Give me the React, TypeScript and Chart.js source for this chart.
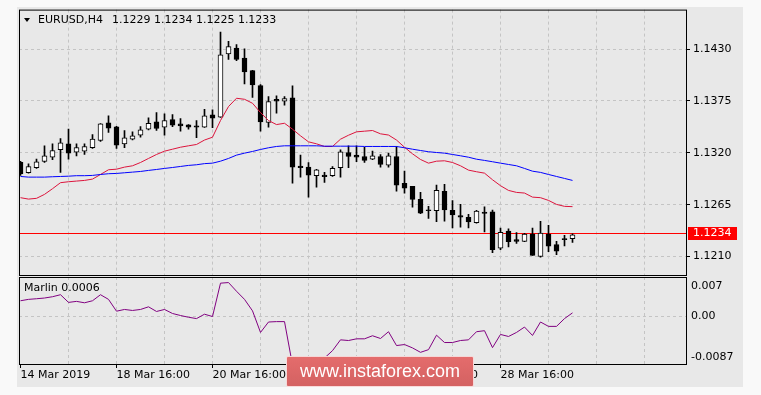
import React, { useEffect, useRef } from "react";
import { Chart, registerables } from "chart.js";

Chart.register(...registerables);

// ---------------- data ----------------
const symbolLabel = "EURUSD,H4";
const indicatorName = "Marlin";
const currentPrice = 1.1234;
const priceTicks = [1.121, 1.1265, 1.132, 1.1375, 1.143];
const dateLabels = ["14 Mar 2019", "18 Mar 16:00", "20 Mar 16:00", "22 Mar 16:00", "26 Mar 16:00", "28 Mar 16:00"];
const marlinTickValues = [0.007, 0, -0.0087];
const marlinTickLabels = ["0.007", "0.00", "-0.0087"];
const watermarkText = "www.instaforex.com";

const opens = [
  1.13100, 1.12990, 1.13041, 1.13108, 1.13153, 1.13232, 1.13295, 1.13206, 1.13217, 1.13253,
  1.13330, 1.13517, 1.13475, 1.13295, 1.13344, 1.13386, 1.13450, 1.13528, 1.13471, 1.13552,
  1.13507, 1.13496, 1.13486, 1.13471, 1.13602, 1.13577, 1.14247, 1.14311, 1.14205, 1.14071,
  1.13912, 1.13521, 1.13767, 1.13746, 1.13782, 1.13058, 1.13048, 1.12957, 1.12963, 1.12957,
  1.13041, 1.13203, 1.13175, 1.13161, 1.13132, 1.13161, 1.13069, 1.13161, 1.12875, 1.12843,
  1.12706, 1.12588, 1.12586, 1.12790, 1.12589, 1.12533, 1.12516, 1.12459, 1.12572, 1.12575,
  1.12188, 1.12370, 1.12281, 1.12260, 1.12339, 1.12100, 1.12335, 1.12227, 1.12291, 1.12290,
];
const highs = [
  1.13110, 1.13084, 1.13132, 1.13274, 1.13295, 1.13351, 1.13450, 1.13295, 1.13295, 1.13394,
  1.13510, 1.13591, 1.13480, 1.13436, 1.13422, 1.13478, 1.13570, 1.13626, 1.13613, 1.13605,
  1.13563, 1.13500, 1.13542, 1.13661, 1.13655, 1.14480, 1.14381, 1.14346, 1.14303, 1.14075,
  1.13922, 1.13796, 1.13803, 1.13796, 1.13909, 1.13175, 1.13097, 1.13025, 1.12992, 1.13055,
  1.13232, 1.13274, 1.13274, 1.13259, 1.13217, 1.13182, 1.13196, 1.13267, 1.13005, 1.12845,
  1.12780, 1.12632, 1.12857, 1.12865, 1.12694, 1.12653, 1.12547, 1.12589, 1.12626, 1.12593,
  1.12402, 1.12395, 1.12353, 1.12346, 1.12402, 1.12473, 1.12431, 1.12262, 1.12325, 1.12340,
];
const lows = [
  1.12960, 1.12984, 1.13034, 1.13097, 1.13126, 1.12992, 1.13132, 1.13168, 1.13182, 1.13245,
  1.13320, 1.13415, 1.13245, 1.13253, 1.13337, 1.13365, 1.13443, 1.13436, 1.13386, 1.13478,
  1.13429, 1.13450, 1.13359, 1.13468, 1.13465, 1.13575, 1.14190, 1.14177, 1.13930, 1.13788,
  1.13429, 1.13471, 1.13619, 1.13704, 1.12878, 1.12942, 1.12730, 1.12836, 1.12886, 1.12949,
  1.12942, 1.13041, 1.13105, 1.13097, 1.13126, 1.13048, 1.13048, 1.12794, 1.12773, 1.12624,
  1.12555, 1.12505, 1.12470, 1.12476, 1.12404, 1.12412, 1.12404, 1.12455, 1.12360, 1.12142,
  1.12174, 1.12202, 1.12240, 1.12258, 1.12112, 1.12093, 1.12152, 1.12121, 1.12213, 1.12250,
];
const closes = [
  1.12975, 1.13055, 1.13105, 1.13168, 1.13224, 1.13306, 1.13196, 1.13256, 1.13267, 1.13344,
  1.13507, 1.13460, 1.13280, 1.13359, 1.13380, 1.13443, 1.13513, 1.13457, 1.13542, 1.13492,
  1.13486, 1.13471, 1.13471, 1.13591, 1.13566, 1.14237, 1.14325, 1.14190, 1.14057, 1.13919,
  1.13528, 1.13743, 1.13746, 1.13774, 1.13048, 1.13041, 1.12963, 1.13020, 1.12946, 1.13034,
  1.13211, 1.13161, 1.13153, 1.13119, 1.13168, 1.13076, 1.13168, 1.12857, 1.12825, 1.12706,
  1.12561, 1.12585, 1.12801, 1.12593, 1.12540, 1.12518, 1.12466, 1.12582, 1.12557, 1.12173,
  1.12357, 1.12257, 1.12260, 1.12339, 1.12113, 1.12350, 1.12209, 1.12156, 1.12279, 1.12330,
];
const maFast = [
  1.12724, 1.12709, 1.12717, 1.12759, 1.12819, 1.12883, 1.12893, 1.12900, 1.12907, 1.12921,
  1.12970, 1.13020, 1.13026, 1.13048, 1.13062, 1.13097, 1.13140, 1.13182, 1.13217, 1.13238,
  1.13259, 1.13274, 1.13288, 1.13335, 1.13365, 1.13542, 1.13690, 1.13778, 1.13767, 1.13725,
  1.13626, 1.13542, 1.13499, 1.13513, 1.13450, 1.13380, 1.13316, 1.13295, 1.13267, 1.13267,
  1.13344, 1.13386, 1.13422, 1.13429, 1.13436, 1.13401, 1.13388, 1.13335, 1.13259, 1.13189,
  1.13129, 1.13090, 1.13111, 1.13115, 1.13097, 1.13062, 1.13016, 1.12999, 1.12984, 1.12914,
  1.12851, 1.12801, 1.12780, 1.12773, 1.12730, 1.12724, 1.12695, 1.12653, 1.12632, 1.12629,
];
const maSlow = [
  1.12949, 1.12942, 1.12942, 1.12942, 1.12946, 1.12949, 1.12952, 1.12957, 1.12957, 1.12960,
  1.12970, 1.12978, 1.12981, 1.12988, 1.12995, 1.13002, 1.13013, 1.13023, 1.13034, 1.13044,
  1.13055, 1.13066, 1.13073, 1.13085, 1.13090, 1.13111, 1.13140, 1.13175, 1.13196, 1.13214,
  1.13235, 1.13253, 1.13267, 1.13274, 1.13274, 1.13274, 1.13274, 1.13274, 1.13270, 1.13270,
  1.13270, 1.13270, 1.13270, 1.13267, 1.13267, 1.13267, 1.13267, 1.13267, 1.13253, 1.13238,
  1.13224, 1.13211, 1.13203, 1.13196, 1.13182, 1.13168, 1.13153, 1.13132, 1.13119, 1.13105,
  1.13090, 1.13076, 1.13062, 1.13034, 1.13005, 1.12992, 1.12970, 1.12949, 1.12928, 1.12907,
];
const marlin = [
  0.00276, 0.00301, 0.00312, 0.00325, 0.00348, 0.00384, 0.00247, 0.00265, 0.00240, 0.00276,
  0.00384, 0.00301, 0.00090, 0.00121, 0.00103, 0.00121, 0.00168, 0.00085, 0.00121, 0.00049,
  0.00013, -0.00018, -0.00042, 0.00036, -0.00005, 0.00590, 0.00601, 0.00446, 0.00301, 0.00096,
  -0.00289, -0.00103, -0.00096, -0.00096, -0.00870, -0.00830, -0.00860, -0.00800, -0.00745, -0.00614,
  -0.00421, -0.00433, -0.00403, -0.00403, -0.00348, -0.00397, -0.00276, -0.00523, -0.00505, -0.00565,
  -0.00644, -0.00596, -0.00338, -0.00469, -0.00469, -0.00433, -0.00421, -0.00276, -0.00258, -0.00560,
  -0.00325, -0.00361, -0.00289, -0.00193, -0.00343, -0.00103, -0.00181, -0.00181, -0.00042, 0.00060,
];

// ---------------- styling / layout ----------------
const FONT = "'DejaVu Sans', sans-serif";
const GRID = "#c4c4c4";
const PANEL_BG = "#e8e8e8";
const PAGE_BG = "#f9f9f9";
const X_MIN = -0.1875;
const X_MAX = 83.3125;
const BARS_PER_DAY = 6;
const BARS_PER_LABEL = 12;

Chart.defaults.font.family = FONT;
Chart.defaults.font.size = 11;
Chart.defaults.color = "#000";

const framePlugin = {
  id: "frame",
  afterDraw(chart: any) {
    const { ctx, chartArea: a } = chart;
    ctx.save();
    ctx.strokeStyle = "#000";
    ctx.lineWidth = 1;
    ctx.strokeRect(a.left + 0.5, a.top + 0.5, a.right - a.left - 1, a.bottom - a.top - 1);
    ctx.restore();
  },
};

const pricePlugin = {
  id: "priceLine",
  beforeDatasetsDraw(chart: any) {
    const { ctx, chartArea: a } = chart;
    const y = Math.floor(chart.scales.y.getPixelForValue(currentPrice)) + 0.5;
    ctx.save();
    ctx.strokeStyle = "#ff0000";
    ctx.lineWidth = 1;
    ctx.beginPath();
    ctx.moveTo(a.left, y);
    ctx.lineTo(a.right, y);
    ctx.stroke();
    ctx.restore();
  },
  afterDraw(chart: any) {
    const { ctx, chartArea: a } = chart;
    const y = Math.floor(chart.scales.y.getPixelForValue(currentPrice));
    ctx.save();
    ctx.fillStyle = "#ff0000";
    ctx.fillRect(a.right + 1, y - 6, 49, 13);
    ctx.fillStyle = "#ffffff";
    ctx.font = "11px " + FONT;
    ctx.textBaseline = "middle";
    ctx.textAlign = "left";
    ctx.fillText(currentPrice.toFixed(4), a.right + 6, y + 0.5);
    ctx.restore();
  },
};

const marlinLabelsPlugin = {
  id: "marlinLabels",
  afterDraw(chart: any) {
    const { ctx, chartArea: a } = chart;
    const s = chart.scales.y;
    ctx.save();
    ctx.fillStyle = "#000";
    ctx.font = "11px " + FONT;
    ctx.textBaseline = "middle";
    ctx.textAlign = "left";
    marlinTickValues.forEach((v, k) => {
      const y = Math.min(Math.max(s.getPixelForValue(v), a.top + 9), a.bottom - 8);
      ctx.fillText(marlinTickLabels[k], a.right + 4, y);
    });
    ctx.restore();
  },
};

function dayTicks(from: number) {
  const t: { value: number }[] = [];
  for (let v = from; v <= X_MAX; v += BARS_PER_DAY) t.push({ value: v });
  return t;
}

export default function App() {
  const mainRef = useRef<HTMLCanvasElement>(null);
  const subRef = useRef<HTMLCanvasElement>(null);

  useEffect(() => {
    const idx = opens.map((_, i) => i);
    const bodies = idx.map((i) => ({ x: i, y: [opens[i], closes[i]] }));
    const wicks = idx.map((i) => ({ x: i, y: [lows[i], highs[i]] }));

    const main = new Chart(mainRef.current as HTMLCanvasElement, {
      type: "line",
      data: {
        datasets: [
          {
            type: "bar",
            data: bodies as any,
            backgroundColor: (c: any) => (closes[c.dataIndex] >= opens[c.dataIndex] ? "#ffffff" : "#000000"),
            borderColor: "#000000",
            borderWidth: 1,
            borderSkipped: false,
            barThickness: 5,
            maxBarThickness: 5,
            grouped: false,
            minBarLength: 1,
            order: 1,
          } as any,
          {
            type: "bar",
            data: wicks as any,
            backgroundColor: "#000000",
            borderWidth: 0,
            barThickness: 1,
            maxBarThickness: 1,
            grouped: false,
            order: 2,
          } as any,
          {
            type: "line",
            data: maSlow.map((y, i) => ({ x: i, y })),
            borderColor: "#0000ff",
            borderWidth: 1,
            pointRadius: 0,
            tension: 0,
            order: 0,
          },
          {
            type: "line",
            data: maFast.map((y, i) => ({ x: i, y })),
            borderColor: "#dc143c",
            borderWidth: 1,
            pointRadius: 0,
            tension: 0,
            order: 0,
          },
        ],
      },
      options: {
        animation: false,
        responsive: false,
        events: [],
        layout: { padding: { left: 19, top: 9, right: 14, bottom: 119 } },
        plugins: { legend: { display: false }, tooltip: { enabled: false }, title: { display: false } },
        scales: {
          x: {
            type: "linear",
            min: X_MIN,
            max: X_MAX,
            offset: false,
            bounds: "data",
            afterBuildTicks: (s: any) => {
              s.ticks = dayTicks(BARS_PER_DAY);
            },
            afterFit: (s: any) => {
              s.height = 0;
            },
            ticks: { display: false },
            grid: { color: GRID, drawTicks: false, offset: false, lineWidth: 1 },
            border: { display: false, dash: [3, 3] },
          },
          y: {
            type: "linear",
            position: "right",
            min: 1.1189375,
            max: 1.1471779,
            bounds: "data",
            beginAtZero: false,
            afterBuildTicks: (s: any) => {
              s.ticks = priceTicks.map((v) => ({ value: v }));
            },
            afterFit: (s: any) => {
              s.width = 60;
            },
            ticks: {
              callback: (v: any) => Number(v).toFixed(4),
              padding: 3,
              color: "#000",
              font: { family: FONT, size: 11 },
            },
            grid: { color: GRID, tickColor: "#000", tickLength: 3, drawTicks: true, lineWidth: 1 },
            border: { display: false, dash: [3, 3] },
          },
        },
      } as any,
      plugins: [pricePlugin, framePlugin],
    });

    const sub = new Chart(subRef.current as HTMLCanvasElement, {
      type: "line",
      data: {
        datasets: [
          {
            data: marlin.map((y, i) => ({ x: i, y })),
            borderColor: "#800080",
            borderWidth: 1,
            pointRadius: 0,
            tension: 0,
          },
        ],
      },
      options: {
        animation: false,
        responsive: false,
        events: [],
        layout: { padding: { left: 19, top: 277, right: 14, bottom: 0 } },
        plugins: { legend: { display: false }, tooltip: { enabled: false }, title: { display: false } },
        scales: {
          x: {
            type: "linear",
            position: "bottom",
            min: X_MIN,
            max: X_MAX,
            offset: false,
            bounds: "data",
            afterBuildTicks: (s: any) => {
              s.ticks = dayTicks(0);
            },
            afterFit: (s: any) => {
              s.height = 30;
            },
            ticks: {
              autoSkip: false,
              maxRotation: 0,
              minRotation: 0,
              align: "start",
              padding: 1,
              color: "#000",
              font: { family: FONT, size: 11 },
              callback: (v: any) => {
                const n = Number(v);
                const k = n / BARS_PER_LABEL;
                return n % BARS_PER_LABEL === 0 && k < dateLabels.length ? dateLabels[k] : "";
              },
            },
            grid: {
              color: (c: any) => (c.tick && c.tick.value > 0 ? GRID : "rgba(0,0,0,0)"),
              tickColor: (c: any) =>
                c.tick && c.tick.value % BARS_PER_LABEL === 0 && c.tick.value / BARS_PER_LABEL < dateLabels.length
                  ? "#000"
                  : "rgba(0,0,0,0)",
              tickLength: 3,
              drawTicks: true,
              offset: false,
              lineWidth: 1,
            },
            border: { display: false, dash: [3, 3] },
          },
          y: {
            type: "linear",
            position: "right",
            min: -0.0087,
            max: 0.007,
            bounds: "data",
            beginAtZero: false,
            afterBuildTicks: (s: any) => {
              s.ticks = [{ value: 0 }];
            },
            afterFit: (s: any) => {
              s.width = 60;
            },
            ticks: { display: false },
            grid: { color: GRID, drawTicks: false, lineWidth: 1 },
            border: { display: false, dash: [3, 3] },
          },
        },
      } as any,
      plugins: [marlinLabelsPlugin, framePlugin],
    });

    return () => {
      main.destroy();
      sub.destroy();
    };
  }, []);

  const last = opens.length - 1;
  const ohlcText = [opens[last], highs[last], lows[last], closes[last]].map((v) => v.toFixed(4)).join(" ");
  const marlinText = `${indicatorName} ${marlin[marlin.length - 1].toFixed(4)}`;

  const textStyle: React.CSSProperties = {
    position: "absolute",
    fontFamily: FONT,
    fontSize: 11,
    lineHeight: "14px",
    color: "#000",
    whiteSpace: "pre",
  };

  return (
    <div style={{ position: "absolute", left: 0, top: 0, width: 761, height: 395, background: PAGE_BG, overflow: "hidden" }}>
      <div style={{ position: "absolute", left: 17, top: 7, width: 726, height: 380, background: PANEL_BG }} />
      <canvas ref={subRef} width={761} height={395} style={{ position: "absolute", left: 0, top: 0 }} />
      <canvas ref={mainRef} width={761} height={395} style={{ position: "absolute", left: 0, top: 0 }} />
      <div
        style={{
          position: "absolute",
          left: 24,
          top: 18,
          width: 0,
          height: 0,
          borderLeft: "3px solid transparent",
          borderRight: "3px solid transparent",
          borderTop: "4px solid #000",
        }}
      />
      <div style={{ ...textStyle, left: 38, top: 13 }}>
        {symbolLabel}
        <span style={{ marginLeft: 9 }}>{ohlcText}</span>
      </div>
      <div style={{ ...textStyle, left: 24, top: 281 }}>{marlinText}</div>
      <div
        style={{
          position: "absolute",
          left: 286,
          top: 356,
          width: 188,
          height: 31,
          boxSizing: "border-box",
          border: "1px solid rgba(255,255,255,0.75)",
          borderRadius: 2,
          background: "linear-gradient(#e46c6c, #d46262)",
          color: "#ffffff",
          fontFamily: "'Liberation Sans', Arial, sans-serif",
          fontSize: 18,
          lineHeight: "29px",
          textAlign: "center",
        }}
      >
        {watermarkText}
      </div>
    </div>
  );
}
